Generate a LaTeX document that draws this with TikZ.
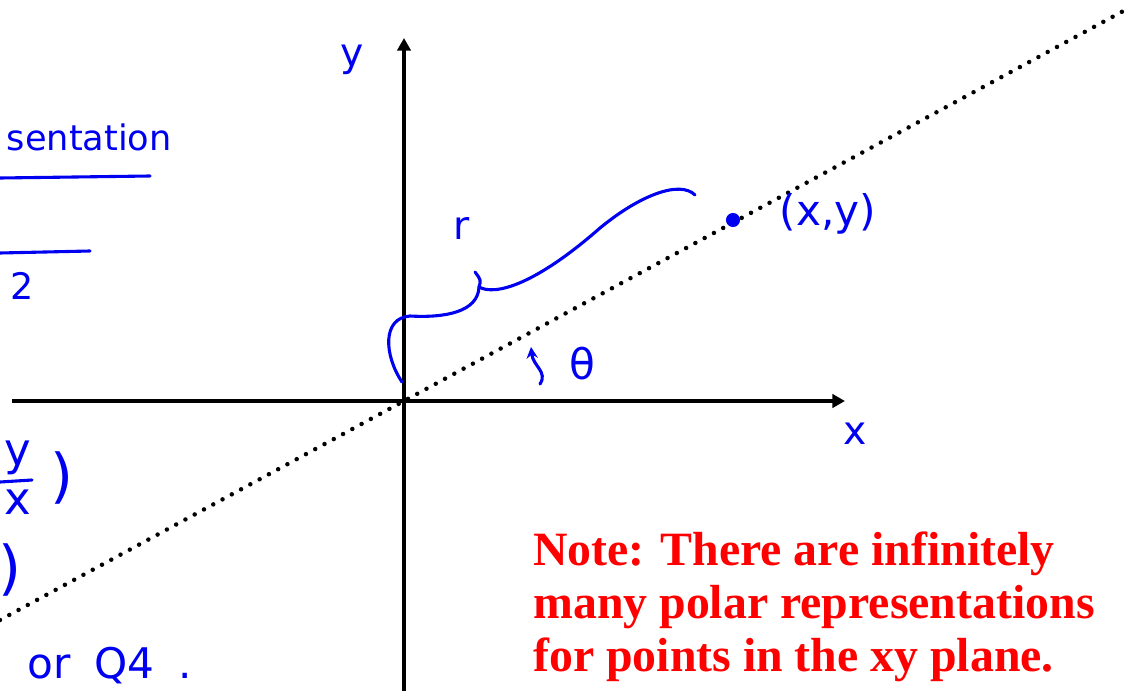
\documentclass[tikz,border=0pt]{standalone}
\usepackage{fontspec}
\setmainfont{Liberation Serif}
\newfontfamily\handfont{DejaVu Sans}
\usepackage{tikz}
\usetikzlibrary{arrows.meta, positioning}
\definecolor{inkblue}{RGB}{0,0,240}
\definecolor{notered}{RGB}{255,0,0}

\begin{document}
\begin{tikzpicture}[
        x=0.025cm, y=-0.025cm,
        axis/.style = {line width=2.8pt, -{Triangle[length=9pt, width=9.5pt]}},
        ray/.style = {line width=3.2pt, line cap=round, dash pattern=on 0pt off 7.5pt},
        ink/.style = {draw=inkblue, line width=2.2pt, line cap=round, line join=round},
        hand/.style = {text=inkblue, inner sep=0pt, font=\handfont\fontsize{28}{30}\selectfont},
        note/.style = {text=notered, inner sep=0pt, align=left, anchor=base west, font=\bfseries\fontsize{34}{37.6}\selectfont}
    ]
        \useasboundingbox (0,0) rectangle (1130,690);
        \clip (0,0) rectangle (1130,690);

        % Axes and ray
        \coordinate (origin) at (404,401);
        \coordinate (xLeft) at (12,401);
        \coordinate (xRight) at (845,401);
        \coordinate (yBot) at (404,700);
        \coordinate (yTop) at (404,38);
        \coordinate (rayLow) at (0,620);
        \coordinate (rayHigh) at (1127,9);

        \draw [ray] (rayLow) -- (rayHigh);
        \draw [axis] (xLeft) -- (xRight);
        \draw [axis] (yBot) -- (yTop);

        % Point and labels
        \node (pt) [circle, fill=inkblue, inner sep=0pt, minimum size=10pt] at (733,220) {};
        \node (ptLabel) [hand, font=\handfont\fontsize{30}{32}\selectfont] at (828,214) {(x,y)};
        \node (yLabel) [hand] at (352,60) {y};
        \node (xLabel) [hand] at (855,434) {x};
        \node (rLabel) [hand] at (462,228) {r};
        \node (thLabel) [hand, font=\handfont\fontsize{30}{32}\selectfont] at (582,364) {θ};

        % Brace for r
        \coordinate (braceLow) at (402,382);
        \coordinate (braceMid) at (479,287);
        \coordinate (braceTip) at (475,272);
        \coordinate (braceEnd) at (695,195);
        \draw [ink] (braceLow) .. controls (384,355) and (382,318) .. (410,316)
            .. controls (445,318) and (478,312) .. (braceMid);
        \draw [ink] (braceTip) .. controls (481,280) .. (braceMid);
        \draw [ink] (braceMid) .. controls (495,296) and (535,285) .. (600,228)
            .. controls (640,195) and (680,180) .. (braceEnd);

        % Angle arrow
        \coordinate (thFoot) at (540,384);
        \coordinate (thHead) at (531,347);
        \draw [ink, -{Stealth[length=8pt, width=8pt]}] (thFoot) .. controls (548,372) and (533,366) .. (thHead);

        % Handwriting cut at the left edge
        \node (word) [hand, anchor=base east, font=\handfont\fontsize{25}{28}\selectfont] at (172,150) {sentation};
        \coordinate (ulOneA) at (0,178);
        \coordinate (ulOneB) at (150,176);
        \draw [ink] (ulOneA) -- (ulOneB);
        \coordinate (ulTwoA) at (0,253);
        \coordinate (ulTwoB) at (90,251);
        \draw [ink] (ulTwoA) -- (ulTwoB);
        \node (two) [hand, font=\handfont\fontsize{26}{28}\selectfont] at (22,286) {2};
        \node (fracY) [hand, font=\handfont\fontsize{32}{34}\selectfont] at (18,458) {y};
        \coordinate (barA) at (0,482);
        \coordinate (barB) at (32,480);
        \draw [ink] (barA) -- (barB);
        \node (fracX) [hand, font=\handfont\fontsize{32}{34}\selectfont] at (18,502) {x};
        \node (parenOne) [hand, font=\handfont\fontsize{42}{44}\selectfont] at (62,478) {)};
        \node (parenTwo) [hand, font=\handfont\fontsize{42}{44}\selectfont] at (10,570) {)};
        \node (orQ) [hand, anchor=base west, font=\handfont\fontsize{30}{32}\selectfont] at (27,678) {or\hspace{0.6cm}Q4\hspace{0.6cm}.};

        % Note
        \node (noteOne) [note] at (533,565) {Note: There are infinitely};
        \node (noteTwo) [note] at (533,618) {many polar representations};
        \node (noteThree) [note] at (533,671) {for points in the xy plane.};

    \end{tikzpicture}
\end{document}
